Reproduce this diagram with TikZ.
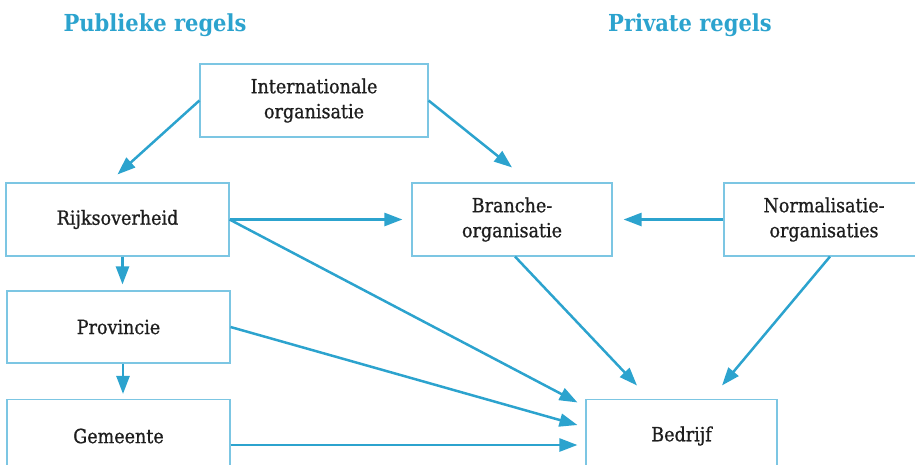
\documentclass[tikz,border=0pt]{standalone}
\usepackage{fontspec}
\setmainfont{DejaVu Serif Condensed}
\newfontfamily\labelfont[FakeBold=0.9]{DejaVu Serif Condensed}
\usetikzlibrary{arrows.meta,calc}
\definecolor{flow}{HTML}{2CA3CE}
\definecolor{frame}{HTML}{7CC6E3}
\definecolor{ink}{HTML}{1E1E1E}
\begin{document}
\begin{tikzpicture}[x=1pt,y=-1pt,
  box/.style={draw=frame,line width=1.1pt,fill=white,text=ink,align=center,
    inner sep=0pt,font=\labelfont\fontsize{19.5}{25}\selectfont},
  heading/.style={text=flow,font=\bfseries\fontsize{23.4}{26}\selectfont},
  link/.style={draw=flow,line width=2.5pt,-{Triangle[length=18pt,width=13pt]}}]
\useasboundingbox (0,0) rectangle (915,464);
\clip (0,0) rectangle (915,464);

% column headings
\node[heading] (pub) at (155,25) {Publieke regels};
\node[heading] (priv) at (690,25) {Private regels};

% organisations
\node[box,minimum width=228pt,minimum height=73pt] (intorg) at (314,100.5) {Internationale\\organisatie};
\node[box,minimum width=223pt,minimum height=73pt] (rijk) at (117.5,219.5) {Rijksoverheid};
\node[box,minimum width=223pt,minimum height=72pt] (prov) at (118.5,327) {Provincie};
\node[box,minimum width=223pt,minimum height=73pt] (gem) at (118.5,436) {Gemeente};
\node[box,minimum width=200pt,minimum height=73pt] (branche) at (512,219.5) {Branche-\\organisatie};
\node[box,minimum width=200pt,minimum height=73pt] (norm) at (824,219.5) {Normalisatie-\\organisaties};
\node[box,minimum width=191pt,minimum height=73pt] (bedrijf) at (681.5,436) {Bedrijf};

% rule flows
\draw[link] (intorg.west) -- ($(rijk.north)+(0,-8)$);
\draw[link] (intorg.east) -- ($(branche.north)+(0,-15)$);
\draw[link] (rijk.east) -- ($(branche.west)+(-9,0)$);
\draw[link] (rijk.east) -- ($(bedrijf.north west)+(-8,3.5)$);
\draw[link] (prov.east) -- ($(bedrijf.west)+(-8,-11)$);
\draw[link] ($(gem.east)+(0,9)$) -- ($(bedrijf.west)+(-8,9)$);
\draw[link] ($(rijk.south)+(5,0)$) -- ($(prov.north)+(4,-6)$);
\draw[link] ($(prov.south)+(4.5,0)$) -- ($(gem.north)+(4.5,-5)$);
\draw[link] (norm.west) -- ($(branche.east)+(11,0)$);
\draw[link] ($(branche.south)+(3,0)$) -- ($(bedrijf.north)+(-44.5,-13.5)$);
\draw[link] ($(norm.south)+(6,0)$) -- ($(bedrijf.north)+(40.5,-13.5)$);
\end{tikzpicture}
\end{document}
